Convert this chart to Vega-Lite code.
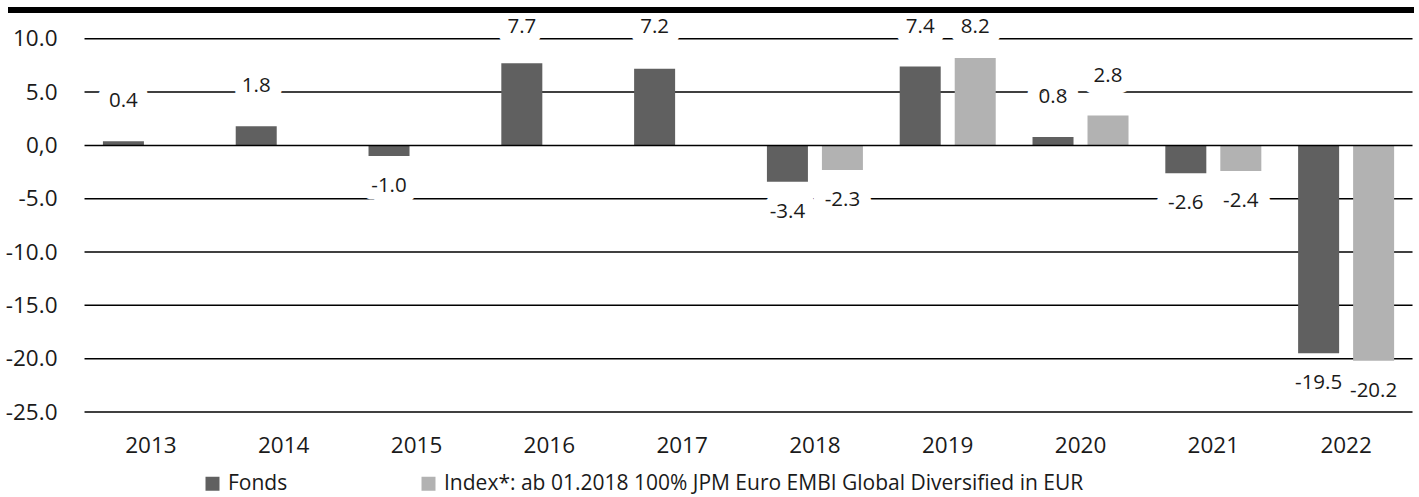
{
  "$schema": "https://vega.github.io/schema/vega-lite/v6.json",
  "width": 1406,
  "height": 402,
  "autosize": {"type": "none"},
  "padding": {"left": 8, "top": 10, "right": 5, "bottom": 85},
  "config": {
    "view": {"stroke": null},
    "font": "Open Sans",
    "locale": {"number": {"decimal": ".", "thousands": ",", "grouping": [3], "currency": ["", ""], "minus": "-"}}
  },
  "data": {
    "values": [
      {"year": "2013", "series": "Fonds", "value": 0.4},
      {"year": "2014", "series": "Fonds", "value": 1.8},
      {"year": "2015", "series": "Fonds", "value": -1.0},
      {"year": "2016", "series": "Fonds", "value": 7.7},
      {"year": "2017", "series": "Fonds", "value": 7.2},
      {"year": "2018", "series": "Fonds", "value": -3.4},
      {"year": "2019", "series": "Fonds", "value": 7.4},
      {"year": "2020", "series": "Fonds", "value": 0.8},
      {"year": "2021", "series": "Fonds", "value": -2.6},
      {"year": "2022", "series": "Fonds", "value": -19.5},
      {"year": "2018", "series": "Index*: ab 01.2018 100% JPM Euro EMBI Global Diversified in EUR", "value": -2.3},
      {"year": "2019", "series": "Index*: ab 01.2018 100% JPM Euro EMBI Global Diversified in EUR", "value": 8.2},
      {"year": "2020", "series": "Index*: ab 01.2018 100% JPM Euro EMBI Global Diversified in EUR", "value": 2.8},
      {"year": "2021", "series": "Index*: ab 01.2018 100% JPM Euro EMBI Global Diversified in EUR", "value": -2.4},
      {"year": "2022", "series": "Index*: ab 01.2018 100% JPM Euro EMBI Global Diversified in EUR", "value": -20.2}
    ]
  },
  "layer": [
    {
      "data": {"values": [{"v": 10}, {"v": 5}, {"v": -5}, {"v": -10}, {"v": -15}, {"v": -20}, {"v": -25}]},
      "mark": {"type": "rule", "color": "#000000", "strokeWidth": 1.5},
      "encoding": {
        "x": {"datum": "2013", "type": "nominal", "bandPosition": 0, "title": null},
        "x2": {"datum": "2022", "bandPosition": 1},
        "y": {"field": "v", "type": "quantitative", "title": null}
      }
    },
    {
      "mark": {"type": "bar"},
      "encoding": {
        "x": {
          "field": "year", "type": "nominal", "title": null,
          "scale": {"domain": ["2013", "2014", "2015", "2016", "2017", "2018", "2019", "2020", "2021", "2022"], "paddingInner": 0, "paddingOuter": 0.2937, "align": 0.981},
          "axis": {"title": null, "domain": false, "ticks": false, "grid": false, "bandPosition": 0.5, "labelAlign": "center", "labelFontSize": 22.5, "labelColor": "#1a1a1a", "labelPadding": 33, "labelAngle": 0}
        },
        "xOffset": {
          "field": "series", "type": "nominal",
          "scale": {"domain": ["Fonds", "Index*: ab 01.2018 100% JPM Euro EMBI Global Diversified in EUR"], "paddingInner": 0.2545, "paddingOuter": 0.3345}
        },
        "y": {
          "field": "value", "type": "quantitative", "title": null,
          "scale": {"domain": [-25, 12.7], "nice": false, "zero": false},
          "axis": {"title": null, "values": [10, 5, 0, -5, -10, -15, -20, -25], "grid": false, "domain": false, "ticks": false, "offset": -49, "labelPadding": 0, "labelFontSize": 22.5, "labelColor": "#1a1a1a", "labelExpr": "datum.value == 0 ? '0,0' : format(datum.value, '.1f')"}
        },
        "color": {
          "field": "series", "type": "nominal",
          "scale": {"domain": ["Fonds", "Index*: ab 01.2018 100% JPM Euro EMBI Global Diversified in EUR"], "range": ["#606060", "#b2b2b2"]},
          "legend": {"orient": "none", "legendX": 194, "legendY": 463, "direction": "horizontal", "title": null, "symbolType": "square", "symbolSize": 196, "symbolStrokeWidth": 0, "labelFontSize": 21, "labelColor": "#1a1a1a", "labelOffset": 5, "columnPadding": 130, "labelLimit": 1000}
        }
      }
    },
    {
      "data": {"values": [{"v": 0}]},
      "mark": {"type": "rule", "color": "#000000", "strokeWidth": 1.5},
      "encoding": {
        "x": {"datum": "2013", "type": "nominal", "bandPosition": 0, "title": null},
        "x2": {"datum": "2022", "bandPosition": 1},
        "y": {"field": "v", "type": "quantitative", "title": null}
      }
    },
    {
      "transform": [{"filter": "datum.value >= 0 && datum.value <= 7"}],
      "mark": {"type": "text", "dy": -40, "fontSize": 20.5, "stroke": "white", "strokeWidth": 24, "strokeJoin": "round", "fill": "white", "baseline": "middle"},
      "encoding": {
        "x": {"field": "year", "type": "nominal"},
        "xOffset": {"field": "series", "type": "nominal"},
        "y": {"field": "value", "type": "quantitative"},
        "text": {"field": "value", "type": "quantitative", "format": ".1f"}
      }
    },
    {
      "transform": [{"filter": "datum.value > 7"}],
      "mark": {"type": "text", "fontSize": 20.5, "stroke": "white", "strokeWidth": 24, "strokeJoin": "round", "fill": "white", "baseline": "middle"},
      "encoding": {
        "x": {"field": "year", "type": "nominal"},
        "xOffset": {"field": "series", "type": "nominal"},
        "y": {"datum": 11.15, "type": "quantitative"},
        "text": {"field": "value", "type": "quantitative", "format": ".1f"}
      }
    },
    {
      "transform": [{"filter": "datum.value < 0"}],
      "mark": {"type": "text", "dy": 30, "fontSize": 20.5, "stroke": "white", "strokeWidth": 24, "strokeJoin": "round", "fill": "white", "baseline": "middle"},
      "encoding": {
        "x": {"field": "year", "type": "nominal"},
        "xOffset": {"field": "series", "type": "nominal"},
        "y": {"field": "value", "type": "quantitative"},
        "text": {"field": "value", "type": "quantitative", "format": ".1f"}
      }
    },
    {
      "transform": [{"filter": "datum.value >= 0 && datum.value <= 7"}],
      "mark": {"type": "text", "dy": -40, "fontSize": 20.5, "color": "#1a1a1a", "baseline": "middle"},
      "encoding": {
        "x": {"field": "year", "type": "nominal"},
        "xOffset": {"field": "series", "type": "nominal"},
        "y": {"field": "value", "type": "quantitative"},
        "text": {"field": "value", "type": "quantitative", "format": ".1f"}
      }
    },
    {
      "transform": [{"filter": "datum.value > 7"}],
      "mark": {"type": "text", "fontSize": 20.5, "color": "#1a1a1a", "baseline": "middle"},
      "encoding": {
        "x": {"field": "year", "type": "nominal"},
        "xOffset": {"field": "series", "type": "nominal"},
        "y": {"datum": 11.15, "type": "quantitative"},
        "text": {"field": "value", "type": "quantitative", "format": ".1f"}
      }
    },
    {
      "transform": [{"filter": "datum.value < 0"}],
      "mark": {"type": "text", "dy": 30, "fontSize": 20.5, "color": "#1a1a1a", "baseline": "middle"},
      "encoding": {
        "x": {"field": "year", "type": "nominal"},
        "xOffset": {"field": "series", "type": "nominal"},
        "y": {"field": "value", "type": "quantitative"},
        "text": {"field": "value", "type": "quantitative", "format": ".1f"}
      }
    },
    {
      "data": {"values": [{"t": 1}]},
      "mark": {"type": "rule", "color": "#000000", "strokeWidth": 6},
      "encoding": {
        "y": {"datum": 12.7, "type": "quantitative"}
      }
    }
  ]
}
